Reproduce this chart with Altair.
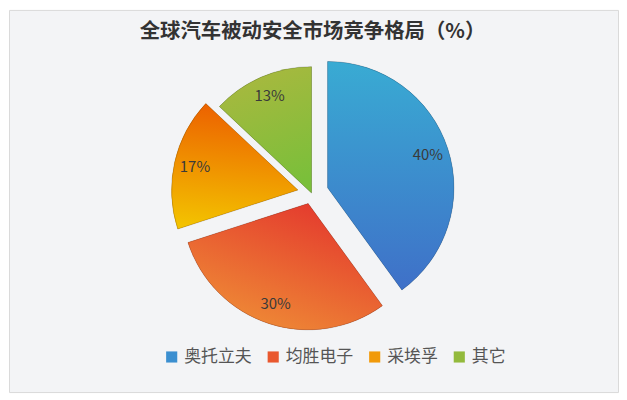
import math
import altair as alt
import pandas as pd

TITLE = "全球汽车被动安全市场竞争格局（%）"
categories = ["奥托立夫", "均胜电子", "采埃孚", "其它"]
shares = [40, 30, 17, 13]

# ---- styles ----
FONT = "Noto Sans CJK SC"
legend_colors = ["#3b8fd0", "#e9582f", "#f19a0a", "#93ba3c"]
grad_top = ["#39abd3", "#e3332d", "#ec5f00", "#aab83f"]
grad_bottom = ["#3f70c8", "#ef8e36", "#f3c200", "#7abf3a"]
grad_dir = [(0, 0, 0, 1), (0.85, 0, 0.25, 1), (0.5, 0, 0.4, 1), (0.3, 0, 0.6, 1)]
explode = [17, 11, 14, 0]
CX, CY, R, LABEL_R = 304, 184, 127, 106
W, H = 612, 384

df = pd.DataFrame({"cat": categories, "value": shares,
                   "order": list(range(len(categories))), "explode": explode})
TOTAL = sum(shares)

base = alt.Chart(df).transform_window(
    cum="sum(value)", sort=[alt.SortField("order")], frame=[None, 0]
).transform_calculate(
    start="datum.cum - datum.value",
    mid=f"2*PI*(datum.cum - datum.value/2)/{TOTAL}",
    px=f"{CX} + datum.explode*sin(datum.mid)",
    py=f"{CY} - datum.explode*cos(datum.mid)",
    lx=f"datum.px + {LABEL_R}*sin(datum.mid)",
    ly=f"datum.py - {LABEL_R}*cos(datum.mid)",
    label="datum.value + '%'",
)

theta = alt.Theta("start:Q", stack=False,
                  scale=alt.Scale(domain=[0, TOTAL], range=[0, 2 * math.pi]))
theta2 = alt.Theta2("cum:Q")
xpos = alt.X("px:Q", scale=None)
ypos = alt.Y("py:Q", scale=None)

legend_layer = base.mark_arc(outerRadius=R).encode(
    theta=theta, theta2=theta2, x=xpos, y=ypos,
    color=alt.Color(
        "cat:N", sort=categories,
        scale=alt.Scale(domain=categories, range=legend_colors),
        legend=alt.Legend(
            orient="none", legendX=155, legendY=340, direction="horizontal",
            title=None, symbolType="square", symbolSize=125, symbolStrokeWidth=0,
            labelFont=FONT, labelFontSize=17, labelColor="#555555",
            columnPadding=13, labelOffset=4, padding=0,
        ),
    ),
)

layers = [legend_layer]
for i in range(len(categories)):
    x1, y1, x2, y2 = grad_dir[i]
    grad = {"gradient": "linear", "x1": x1, "y1": y1, "x2": x2, "y2": y2,
            "stops": [{"offset": 0, "color": grad_top[i]},
                      {"offset": 1, "color": grad_bottom[i]}]}
    layers.append(
        base.transform_filter(alt.datum.order == i).mark_arc(
            outerRadius=R, stroke="#000000", strokeOpacity=0.22, strokeWidth=0.8
        ).encode(theta=theta, theta2=theta2, x=xpos, y=ypos, fill=alt.value(grad))
    )

labels = base.mark_text(font=FONT, fontSize=15, color="#3a3a3a").encode(
    x=alt.X("lx:Q", scale=None), y=alt.Y("ly:Q", scale=None), text="label:N"
)
layers.append(labels)

title = alt.Chart(pd.DataFrame({"t": [TITLE]})).mark_text(
    font=FONT, fontSize=20.5, fontWeight="bold", color="#333333"
).encode(text="t:N", x=alt.value(305), y=alt.value(22))
layers.append(title)

chart = alt.layer(*layers).properties(
    width=W, height=H, padding=1, background="white",
    autosize=alt.AutoSizeParams(type="none"),
).configure_view(fill="#f3f4f6", stroke="#dadada", strokeWidth=1)

chart.save("out.html", embed_options={"renderer": "svg", "actions": False})
